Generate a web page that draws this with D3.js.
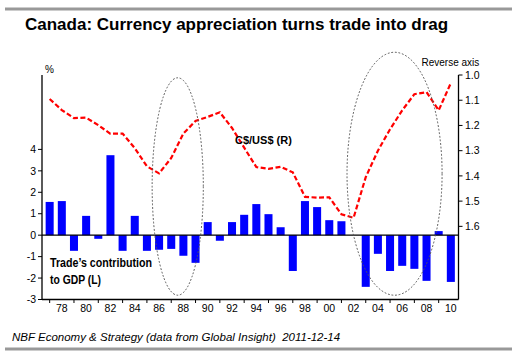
<!DOCTYPE html>
<html><head><meta charset="utf-8">
<script src="https://cdn.jsdelivr.net/npm/d3@7"></script>
<style>
html,body{margin:0;padding:0;background:#fff;}
svg{display:block;font-family:"Liberation Sans",Arial,sans-serif;}
</style></head>
<body><svg id="c" width="523" height="358"></svg>
<script>
const years = d3.range(1977, 2011);
const tradeContribution = [1.55,1.59,-0.73,0.9,-0.17,3.73,-0.73,0.9,-0.73,-0.68,-0.64,-0.96,-1.29,0.61,-0.26,0.61,0.95,1.45,0.98,0.37,-1.67,1.59,1.31,0.70,0.65,0,-2.41,-0.87,-1.67,-1.43,-1.57,-2.13,0.19,-2.18];
const cadUsd = [1.095,1.139,1.171,1.169,1.199,1.233,1.232,1.290,1.362,1.39,1.329,1.232,1.182,1.166,1.148,1.210,1.288,1.365,1.372,1.364,1.386,1.483,1.486,1.485,1.552,1.566,1.405,1.300,1.215,1.140,1.076,1.068,1.140,1.032];
const leftTicks = [-3,-2,-1,0,1,2,3,4];
const rightTicks = [1.0,1.1,1.2,1.3,1.4,1.5,1.6];
const xLabelYears = d3.range(1978, 2011, 2);
const xTickYears = d3.range(1977, 2011, 2);
// annotation ellipses, in data units (years, left-axis %)
const ellipses = [
  {y0:1985.43, y1:1989.64, top:7.34, bottom:-2.80},
  {y0:2001.46, y1:2009.28, top:8.53, bottom:-2.80}
];

const svg = d3.select("#c");
const L = 42, R = 458.5, T = 75, B = 299.5;

const x = d3.scaleBand().domain(years).range([L, R]).paddingInner(0.34).paddingOuter(0.3);
const xc = yr => x(yr) + x.bandwidth()/2;
const xf = yr => xc(1977) + (yr-1977)*x.step();
const yL = d3.scaleLinear().domain([-3, 7.47]).range([B, T]);
const yR = d3.scaleLinear().domain([1.0, 1.89]).range([T, B]);

// frame lines
svg.append("rect").attr("x",5).attr("y",7.5).attr("width",507).attr("height",3).attr("fill","#999");
svg.append("rect").attr("x",5).attr("y",347.5).attr("width",507).attr("height",3).attr("fill","#999");

svg.append("text").attr("x",25).attr("y",30).attr("font-size",17).attr("font-weight","bold").text("Canada: Currency appreciation turns trade into drag");

// bars
svg.append("g").selectAll("rect").data(years).join("rect")
  .attr("x", d=>x(d)).attr("width", x.bandwidth())
  .attr("y", (d,i)=>yL(Math.max(0,tradeContribution[i])))
  .attr("height", (d,i)=>Math.abs(yL(tradeContribution[i])-yL(0)))
  .attr("fill","#0000ff");

// zero line
svg.append("line").attr("x1",L).attr("x2",R).attr("y1",yL(0)).attr("y2",yL(0)).attr("stroke","#000").attr("stroke-width",1.2);

// left axis
const gl = svg.append("g").attr("transform",`translate(${L},0)`);
gl.append("line").attr("y1",T).attr("y2",B).attr("stroke","#000").attr("stroke-width",1.3);
gl.selectAll("g.t").data(leftTicks).join("g").attr("class","t").each(function(d){
  const g=d3.select(this);
  g.append("line").attr("x1",-4).attr("x2",0).attr("y1",yL(d)).attr("y2",yL(d)).attr("stroke","#000");
  g.append("text").attr("x",-6).attr("y",yL(d)).attr("dy","0.35em").attr("text-anchor","end").attr("font-size",10.5).text(d);
});
svg.append("text").attr("x",45).attr("y",73).attr("font-size",10).text("%");

// right axis
const gr = svg.append("g").attr("transform",`translate(${R},0)`);
gr.append("line").attr("y1",T).attr("y2",B).attr("stroke","#000").attr("stroke-width",1.3);
gr.selectAll("g.t").data(rightTicks).join("g").attr("class","t").each(function(d){
  const g=d3.select(this);
  g.append("line").attr("x1",0).attr("x2",4).attr("y1",yR(d)).attr("y2",yR(d)).attr("stroke","#000");
  g.append("text").attr("x",6.5).attr("y",yR(d)).attr("dy","0.35em").attr("font-size",10.5).text(d3.format(".1f")(d));
});
svg.append("text").attr("x",421.5).attr("y",66).attr("font-size",10).text("Reverse axis");

// x axis
svg.append("line").attr("x1",L).attr("x2",R).attr("y1",B).attr("y2",B).attr("stroke","#000").attr("stroke-width",1.3);
svg.append("g").selectAll("line").data(xTickYears).join("line")
  .attr("x1",d=>xc(d)).attr("x2",d=>xc(d)).attr("y1",B).attr("y2",B+3.5).attr("stroke","#000");
svg.append("g").selectAll("text").data(xLabelYears).join("text")
  .attr("x",d=>xc(d)).attr("y",312).attr("text-anchor","middle").attr("font-size",10.5)
  .text(d=>String(d).slice(2));

// line
const line = d3.line().x((d,i)=>xc(years[i])).y(d=>yR(d));
svg.append("path").datum(cadUsd).attr("d",line).attr("fill","none").attr("stroke","#ff0000")
  .attr("stroke-width",2.2).attr("stroke-dasharray","5,2.5");

// labels
svg.append("text").attr("x",235).attr("y",144).attr("font-size",11).attr("font-weight","bold").text("C$/US$ (R)");
svg.append("text").attr("x",50).attr("y",267).attr("font-size",13.5).attr("font-weight","bold")
  .attr("textLength",102).attr("lengthAdjust","spacingAndGlyphs").text("Trade\u2019s contribution");
svg.append("text").attr("x",50).attr("y",283.5).attr("font-size",13.5).attr("font-weight","bold")
  .attr("textLength",51).attr("lengthAdjust","spacingAndGlyphs").text("to GDP (L)");

// ellipses
svg.append("g").selectAll("ellipse").data(ellipses).join("ellipse")
  .attr("cx",d=>(xf(d.y0)+xf(d.y1))/2).attr("rx",d=>(xf(d.y1)-xf(d.y0))/2)
  .attr("cy",d=>(yL(d.top)+yL(d.bottom))/2).attr("ry",d=>(yL(d.bottom)-yL(d.top))/2)
  .attr("fill","none").attr("stroke","#555").attr("stroke-width",1).attr("stroke-dasharray","1.8,1.8");

// footer
svg.append("text").attr("x",12).attr("y",340.5).attr("font-size",11.5).attr("font-style","italic")
  .text("NBF Economy & Strategy (data from Global Insight)  2011-12-14").attr("xml:space","preserve").style("white-space","pre");
</script></body></html>
